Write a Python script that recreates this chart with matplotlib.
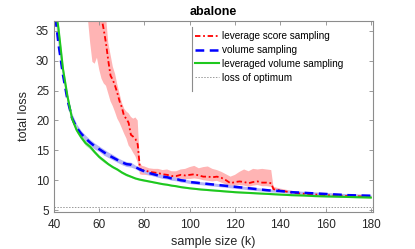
import numpy as np
import matplotlib
matplotlib.use("Agg")
import matplotlib.pyplot as plt

plt.rcParams["font.family"] = ["Liberation Sans", "DejaVu Sans"]

# sample sizes for volume / leveraged volume sampling
k_vol = [40, 42, 44, 46, 48, 50, 52, 54, 56, 58, 60, 62, 64, 66, 68, 70, 72, 74, 76, 78,
         80, 82, 84, 86, 88, 90, 92, 94, 96, 98, 100, 105, 110, 115, 120, 125, 130, 135,
         140, 145, 150, 155, 160, 165, 170, 175, 180]

vol = [39.5, 32.8, 27.6, 23.4, 20.4, 18.8, 17.8, 17.0, 16.3, 15.7, 15.2, 14.7, 14.2, 13.8,
       13.4, 13.0, 12.7, 12.6, 12.2, 11.8, 11.5, 11.2, 11.0, 10.8, 10.6, 10.5, 10.3, 10.2,
       10.0, 9.9, 9.7, 9.5, 9.3, 9.1, 8.9, 8.7, 8.5, 8.3, 8.2, 8.0, 7.9, 7.8, 7.7, 7.6,
       7.5, 7.45, 7.4]
vol_lo = [38.8, 32.0, 26.9, 22.7, 19.7, 18.2, 17.3, 16.5, 15.8, 15.2, 14.8, 14.2, 13.8, 13.4,
          13.0, 12.6, 12.3, 12.2, 11.9, 11.5, 11.2, 10.9, 10.7, 10.5, 10.3, 10.2, 10.0, 9.9,
          9.7, 9.6, 9.45, 9.25, 9.05, 8.85, 8.65, 8.45, 8.25, 8.05, 7.95, 7.8, 7.7, 7.6, 7.5,
          7.4, 7.3, 7.25, 7.2]
vol_hi = [40.2, 33.6, 28.3, 24.1, 21.1, 19.4, 18.3, 17.5, 16.8, 16.2, 15.7, 15.2, 14.7, 14.3,
          13.8, 13.4, 13.1, 13.0, 12.5, 12.1, 11.8, 11.5, 11.3, 11.1, 10.9, 10.8, 10.6, 10.5,
          10.3, 10.2, 10.0, 9.75, 9.55, 9.35, 9.15, 8.95, 8.75, 8.55, 8.45, 8.25, 8.15, 8.05,
          7.95, 7.85, 7.75, 7.7, 7.65]

levvol = [40.5, 35.4, 28.6, 24.0, 20.3, 18.4, 17.2, 16.2, 15.6, 14.7, 13.9, 13.3, 12.7, 12.2,
          11.8, 11.3, 10.9, 10.6, 10.3, 10.1, 9.95, 9.8, 9.65, 9.5, 9.35, 9.25, 9.1, 9.0,
          8.85, 8.75, 8.65, 8.45, 8.3, 8.15, 8.0, 7.9, 7.8, 7.7, 7.6, 7.5, 7.45, 7.35, 7.3,
          7.25, 7.2, 7.15, 7.1]
levvol_lo = [40.0, 34.9, 28.1, 23.6, 19.9, 18.0, 16.8, 15.8, 15.2, 14.4, 13.6, 13.0, 12.5, 12.0,
             11.6, 11.1, 10.7, 10.45, 10.15, 9.95, 9.8, 9.7, 9.55, 9.4, 9.25, 9.15, 9.0, 8.9,
             8.75, 8.65, 8.55, 8.35, 8.2, 8.05, 7.9, 7.8, 7.7, 7.6, 7.5, 7.4, 7.35, 7.25, 7.2,
             7.15, 7.1, 7.05, 7.0]
levvol_hi = [41.0, 35.9, 29.1, 24.4, 20.7, 18.8, 17.6, 16.6, 16.0, 15.0, 14.2, 13.6, 12.9, 12.4,
             12.0, 11.5, 11.1, 10.75, 10.45, 10.25, 10.1, 9.9, 9.75, 9.6, 9.45, 9.35, 9.2, 9.1,
             8.95, 8.85, 8.75, 8.55, 8.4, 8.25, 8.1, 8.0, 7.9, 7.8, 7.7, 7.6, 7.55, 7.45, 7.4,
             7.35, 7.3, 7.25, 7.2]

# leverage score sampling
k_lev = [55, 56, 57, 58, 59, 60, 61, 62, 63, 64, 65, 66, 67, 68, 69, 70, 71, 72, 73, 74, 75,
         76, 77, 78, 79, 80,
         82, 84, 86, 88, 90, 92, 94, 96, 98, 100, 102, 104, 106, 108, 110, 112, 114, 116,
         118, 120, 122, 124, 126, 128, 130, 132, 134, 136,
         137, 140, 144, 148, 152, 156, 160, 165, 170, 175, 180]
lev = [48, 46, 44, 42, 40.5, 39, 37.2, 35.2, 32.9, 30.0, 27.5, 26.8, 25.8, 24.6, 23.2, 22.2,
       20.7, 20.3, 19.6, 17.6, 17.3, 16.9, 16.0, 12.0, 11.6, 11.7,
       11.4, 11.3, 11.2, 11.0, 10.9, 10.7, 10.7, 10.9, 10.8, 10.9, 11.0, 10.8, 10.6, 10.6,
       10.5, 10.6, 10.4, 10.0, 9.5, 9.7, 9.8, 9.7, 9.5, 9.7, 9.8, 9.6, 9.6, 9.5,
       8.5, 8.3, 8.0, 7.8, 7.7, 7.6, 7.5, 7.45, 7.35, 7.3, 7.2]
lev_lo = [37.0, 33.0, 29.8, 29.5, 30.5, 28.5, 27.0, 26.2, 25.8, 24.5, 23.2, 22.4, 21.4, 20.3,
          19.6, 18.7, 17.8, 17.0, 15.8, 15.3, 14.6, 14.0, 13.0, 11.0, 10.9, 10.9,
          10.8, 10.7, 10.6, 10.4, 10.3, 10.1, 10.1, 10.2, 10.2, 10.2, 10.3, 10.2, 10.0, 9.9,
          9.8, 9.9, 9.6, 9.3, 8.9, 9.1, 9.2, 9.1, 8.9, 9.1, 9.2, 9.0, 9.0, 8.9,
          8.2, 8.0, 7.8, 7.6, 7.5, 7.4, 7.3, 7.25, 7.15, 7.1, 7.0]
lev_hi = [60, 58, 56, 54, 52, 50, 46, 42, 37.5, 33.0, 31.0, 29.0, 27.8, 26.0, 24.5, 23.0,
          22.0, 21.5, 21.2, 20.6, 20.3, 20.5, 20.0, 12.8, 12.4, 12.3,
          12.0, 11.9, 11.9, 11.7, 11.8, 11.5, 11.5, 11.8, 11.9, 12.2, 12.4, 12.0, 12.2, 12.3,
          11.9, 11.7, 11.4, 11.0, 10.6, 10.9, 11.4, 11.8, 11.5, 11.9, 11.8, 11.9, 11.8, 11.7,
          8.9, 8.6, 8.3, 8.05, 7.95, 7.85, 7.75, 7.7, 7.6, 7.55, 7.45]

optimum = 5.55

fig = plt.figure(figsize=(4.15, 2.49), dpi=100)
ax = fig.add_axes([0.130, 0.149, 0.769, 0.768])

ax.fill_between(k_lev, lev_lo, lev_hi, color="#ffb4b4", lw=0)
ax.fill_between(k_vol, vol_lo, vol_hi, color="#b4b4f5", lw=0)
ax.fill_between(k_vol, levvol_lo, levvol_hi, color="#b4ecb4", lw=0)

ax.plot(k_lev, lev, color="red", ls=(0, (3, 1.5, 1, 1.5)), lw=1.3, label="leverage score sampling")
ax.plot(k_vol, vol, color="blue", ls=(0, (3.5, 2.2)), lw=1.8, label="volume sampling")
ax.plot(k_vol, levvol, color="#1ec81e", ls="-", lw=1.5, label="leveraged volume sampling")
ax.axhline(optimum, color="#999999", ls=(0, (1.5, 1.5)), lw=0.7, label="loss of optimum")

ax.set_xlim(40, 181)
ax.set_ylim(4.7, 36.7)
ax.set_xticks(np.arange(40, 181, 20))
ax.set_yticks(np.arange(5, 36, 5))

for s in ax.spines.values():
    s.set_color("#8c8c8c")
    s.set_linewidth(0.8)
ax.tick_params(direction="in", length=3, width=0.6, color="#8c8c8c",
               labelsize=8.5, labelcolor="#262626", top=True, right=True)
ax.tick_params(axis="x", pad=5)

ax.set_xlabel("sample size (k)", fontsize=9, color="#262626", labelpad=4)
ax.set_ylabel("total loss", fontsize=9, color="#262626", labelpad=4)
ax.set_title("abalone", fontsize=9, fontweight="bold", pad=4)

leg = ax.legend(loc="upper left", bbox_to_anchor=(0.43, 0.965), frameon=False,
                fontsize=7.2, handlelength=2.4, handletextpad=0.3, labelspacing=0.38,
                borderaxespad=0)
ax.plot([0.433, 0.433], [0.63, 0.965], transform=ax.transAxes, color="#8c8c8c", lw=0.8)

fig.savefig("out.png", dpi=100)
